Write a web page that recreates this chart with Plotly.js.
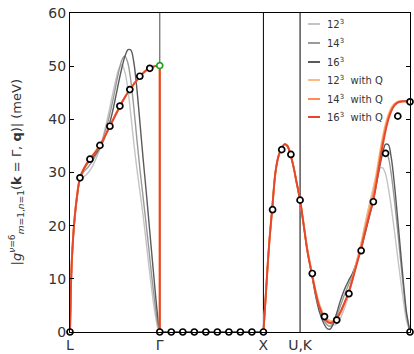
<!DOCTYPE html>
<html>
<head>
<meta charset="utf-8">
<script src="https://cdn.plot.ly/plotly-3.0.1.min.js"></script>
<style>
  html, body { margin: 0; padding: 0; background: #ffffff; }
  #chart { width: 414px; height: 354px; }
</style>
</head>
<body>
<div id="chart"></div>
<script>
// High-symmetry points along the FCC path L-Γ-X-U|K-Γ (path length, 2π/a)
const kL = 0.0, kG1 = 0.866, kX = 1.866, kU = 2.2196, kG2 = 3.2802;
const kTickVals = [kL, kG1, kX, kU, kG2];
const kTickText = ['L', 'Γ', 'X', 'U,K', 'Γ'];

// Wannier-interpolated |g| along L-Γ
const xLG = [0, 0.0097, 0.0193, 0.0386, 0.0676, 0.0965, 0.1351, 0.1737, 0.2123, 0.2509,
             0.2895, 0.3281, 0.3667, 0.4053, 0.4439, 0.4729, 0.5018, 0.5308, 0.5597, 0.5887,
             0.6176, 0.6466, 0.6755, 0.7045, 0.7334, 0.7624, 0.7913, 0.8203, 0.8492, 0.866];
const g12_LG = [0, 8, 13, 19.5, 25, 28.5, 29.2, 29.9, 31, 32.6,
                34.5, 37.4, 40.6, 44.2, 47.6, 49.6, 50.3, 48.8, 45.5, 40.5,
                35.2, 30.5, 26.3, 22, 17.2, 12.2, 7.5, 3.5, 0.6, 0];
const g14_LG = [0, 8.5, 13.5, 19.8, 25.2, 28.8, 30.2, 31.0, 32.0, 33.3,
                34.8, 37.0, 39.6, 42.8, 46.5, 49.2, 51.2, 51.9, 50.5, 47,
                41.8, 36, 30.5, 25.5, 20.5, 15.3, 10, 5.2, 1.2, 0];
const g16_LG = [0, 9, 14, 20, 25.5, 29, 30.7, 31.8, 32.6, 33.6,
                34.7, 36.2, 38.2, 41, 44.5, 47.3, 49.8, 51.9, 53.1, 53.0,
                50.5, 45.5, 39.2, 32.8, 26.8, 20.5, 14.2, 8, 2.3, 0];
const q12_LG = [0, 9.2, 14.3, 20.3, 25.8, 29.2, 30.9, 32.1, 33.1, 34.1,
                35.2, 36.6, 38.1, 39.6, 41.1, 42.2, 43.2, 44.2, 45.1, 45.9,
                46.7, 47.4, 48.1, 48.7, 49.2, 49.5, 49.8, 50.0, 50.1, 50.1];
const q14_LG = [0, 9.1, 14.1, 20.1, 25.6, 29.1, 30.8, 32.0, 33.0, 34.0,
                35.1, 36.5, 38.0, 39.5, 41.0, 42.1, 43.2, 44.2, 45.1, 45.8,
                46.7, 47.4, 48.1, 48.7, 49.2, 49.5, 49.8, 50.0, 50.1, 50.1];
const q16_LG = [0, 9, 14, 20, 25.5, 29.0, 30.7, 32.0, 33.0, 34.0,
                35.1, 36.5, 38.0, 39.5, 41.0, 42.1, 43.2, 44.2, 45.1, 45.8,
                46.7, 47.4, 48.1, 48.7, 49.2, 49.5, 49.8, 50.0, 50.1, 50.1];

// Γ-X: the coupling vanishes by symmetry
const xGX = [kG1, kX];
const zGX = [0, 0];

// X-U|K-Γ
const xXG = [1.866, 1.8853, 1.9046, 1.9239, 1.9499, 1.9818, 2.0107, 2.0397, 2.0686,
             2.0976, 2.1265, 2.1554, 2.1844, 2.2196, 2.2519, 2.2905, 2.3320, 2.3677,
             2.4063, 2.4516, 2.4835, 2.5124, 2.5414, 2.5703, 2.6089, 2.6475, 2.6861,
             2.7247, 2.7633, 2.8047, 2.8404, 2.8790, 2.9244, 2.9562, 2.9852, 3.0141,
             3.0431, 3.0720, 3.1009, 3.1299, 3.1588, 3.1878, 3.2167, 3.2457, 3.2802];
const g12_XG = [0, 5.8, 11.8, 17.2, 23.0, 30.0, 33.0, 34.5, 35.3, 35.0, 33.4, 31.2, 28.3, 24.8,
                20.6, 15.5, 11.3, 7.9, 5.2, 3.1, 2.0, 1.5, 1.3, 1.5, 2.6, 4.4, 6.8, 9.6, 12.8,
                16.3, 19.8, 23.3, 27.0, 29.4, 30.7, 30.9, 29.8, 27.0, 23.3, 19.0, 14.5, 10.0,
                5.8, 2.2, 0];
const g14_XG = [0, 5.8, 11.8, 17.2, 23.0, 30.0, 33.0, 34.5, 35.3, 35.0, 33.4, 31.2, 28.3, 24.8,
                20.5, 15.3, 11.1, 7.5, 4.5, 2.2, 1.3, 1.1, 1.6, 2.8, 4.9, 7.0, 8.8, 10.6, 12.8,
                15.6, 18.6, 21.8, 25.5, 28.6, 31.3, 33.2, 33.9, 32.8, 29.5, 24.8, 19.5, 13.8,
                8.3, 3.3, 0];
const g16_XG = [0, 5.8, 11.8, 17.2, 23.0, 30.0, 33.0, 34.5, 35.3, 35.0, 33.4, 31.2, 28.3, 24.8,
                20.4, 15.1, 11.0, 7.0, 3.8, 1.5, 0.6, 0.6, 1.6, 3.4, 5.9, 8.0, 9.6, 11.0, 13.0,
                15.3, 18.0, 21.0, 24.6, 27.8, 30.8, 33.5, 35.3, 35.2, 32.6, 27.8, 21.8, 15.5,
                9.3, 3.8, 0];
const q12_XG = [0, 5.8, 11.8, 17.2, 23.0, 30.0, 33.0, 34.5, 35.3, 35.0, 33.4, 31.2, 28.3, 24.8,
                20.6, 15.5, 11.3, 8.0, 5.1, 3.1, 2.4, 2.1, 2.1, 2.4, 3.5, 5.2, 7.3, 10.1, 13.1,
                16.2, 19.4, 22.8, 26.6, 29.8, 33.2, 36.4, 39.0, 40.9, 42.2, 42.9, 43.3, 43.4,
                43.4, 43.4, 43.4];
const q14_XG = [0, 5.8, 11.8, 17.2, 23.0, 30.0, 33.0, 34.5, 35.3, 35.0, 33.4, 31.2, 28.3, 24.8,
                20.5, 15.3, 11.1, 7.7, 4.8, 2.8, 2.1, 1.8, 1.9, 2.4, 3.7, 5.4, 7.3, 9.9, 12.8,
                15.8, 18.9, 22.1, 25.7, 29.0, 32.4, 35.7, 38.4, 40.5, 41.9, 42.8, 43.2, 43.4,
                43.4, 43.4, 43.4];
const q16_XG = [0, 5.8, 11.8, 17.2, 23.0, 30.0, 33.0, 34.5, 35.3, 35.0, 33.4, 31.2, 28.3, 24.8,
                20.5, 15.2, 11.0, 7.6, 4.7, 2.7, 1.9, 1.7, 1.9, 2.4, 3.8, 5.5, 7.3, 9.8, 12.5,
                15.4, 18.3, 21.3, 24.6, 28.0, 31.5, 34.8, 37.7, 40.0, 41.6, 42.6, 43.1, 43.3,
                43.4, 43.4, 43.4];

// Direct DFPT values at the explicit q points
const dfptX = [0, 0.0962, 0.1924, 0.2887, 0.3849, 0.4811, 0.5773, 0.6736, 0.7698,
               0.866, 0.9771, 1.0882, 1.1993, 1.3104, 1.4216, 1.5327, 1.6438, 1.7549, 1.866,
               1.9544, 2.0428, 2.1312, 2.2196,
               2.3375, 2.4553, 2.5732, 2.6910, 2.8089, 2.9268, 3.0446, 3.1625, 3.2802, 3.2802];
const dfptY = [0, 29.0, 32.5, 35.1, 38.7, 42.5, 45.6, 48.1, 49.6,
               0, 0, 0, 0, 0, 0, 0, 0, 0, 0,
               23.0, 34.3, 33.4, 24.8,
               11.0, 2.9, 2.25, 7.2, 15.3, 24.5, 33.6, 40.6, 43.3, 0];
// Γ-point value approached from the L side
const gammaX = [kG1];
const gammaY = [50.1];

// Series names and colours
const seriesNames = ['12<sup>3</sup>', '14<sup>3</sup>', '16<sup>3</sup>',
                     '12<sup>3</sup>  with Q', '14<sup>3</sup>  with Q', '16<sup>3</sup>  with Q'];
const seriesColors = ['#c4c4c4', '#9a9a9a', '#5a5a5a', '#fdbb84', '#fc8d59', '#e5472c'];

// Join path segments, breaking the line between them
function joinSegments(segs) {
  const x = [], y = [];
  segs.forEach((s, i) => {
    if (i > 0) { x.push(null); y.push(null); }
    x.push(...s[0]); y.push(...s[1]);
  });
  return {x, y};
}

const lgSets = [g12_LG, g14_LG, g16_LG, q12_LG, q14_LG, q16_LG];
const xgSets = [g12_XG, g14_XG, g16_XG, q12_XG, q14_XG, q16_XG];

const traces = [];
for (let i = 0; i < 6; i++) {
  const lg = lgSets[i];
  const last = lg[lg.length - 1];
  const segs = [[xLG, lg]];
  if (last > 0) segs.push([[kG1, kG1], [last, 0]]);  // drop at Γ
  segs.push([xGX, zGX]);
  segs.push([xXG, xgSets[i]]);
  const d = joinSegments(segs);
  traces.push({
    type: 'scatter', mode: 'lines', x: d.x, y: d.y, name: seriesNames[i],
    line: {color: seriesColors[i], width: i < 3 ? 1.4 : 1.9, shape: 'spline', smoothing: 0.8},
    connectgaps: false, showlegend: false, hoverinfo: 'skip'
  });
}

traces.push({
  type: 'scatter', mode: 'markers', x: dfptX, y: dfptY, cliponaxis: false,
  marker: {symbol: 'circle', size: 6, color: '#ffffff', line: {color: '#000000', width: 1.7}},
  showlegend: false, hoverinfo: 'skip'
});
traces.push({
  type: 'scatter', mode: 'markers', x: gammaX, y: gammaY, cliponaxis: false,
  marker: {symbol: 'circle', size: 6, color: '#ffffff', line: {color: '#1aa31a', width: 1.7}},
  showlegend: false, hoverinfo: 'skip'
});

// Plot-area geometry used to place the hand-drawn key
const M = {l: 70, r: 4, t: 13, b: 22};
const W = 414, H = 354;
const pw = W - M.l - M.r, ph = H - M.t - M.b;
const px2x = p => (p - M.l) / pw;
const px2y = p => (H - M.b - p) / ph;

const shapes = [
  {type: 'line', xref: 'x', yref: 'paper', x0: kG1, x1: kG1, y0: 0, y1: 1,
   line: {color: '#666666', width: 1.2}, layer: 'below'},
  {type: 'line', xref: 'x', yref: 'paper', x0: kX, x1: kX, y0: 0, y1: 1,
   line: {color: '#000000', width: 1}, layer: 'below'},
  {type: 'line', xref: 'x', yref: 'paper', x0: kU, x1: kU, y0: 0, y1: 1,
   line: {color: '#000000', width: 1}, layer: 'below'}
];
const annotations = [];
const keyRows = [24, 43, 62, 80, 99, 117];
for (let i = 0; i < 6; i++) {
  const yy = px2y(keyRows[i]);
  shapes.push({type: 'line', xref: 'paper', yref: 'paper',
               x0: px2x(308), x1: px2x(320), y0: yy, y1: yy,
               line: {color: seriesColors[i], width: 2}});
  annotations.push({xref: 'paper', yref: 'paper', x: px2x(325), y: yy,
                    xanchor: 'left', yanchor: 'middle', showarrow: false,
                    text: seriesNames[i], font: {size: 10, color: '#333333'}});
}
annotations.push({
  xref: 'paper', yref: 'paper', x: px2x(16), y: 0.5, xanchor: 'center', yanchor: 'middle',
  textangle: -90, showarrow: false,
  text: '|<i>g</i><sup><i>ν</i>=6</sup><sub><i>m</i>=1,<i>n</i>=1</sub>(<b>k</b> = Γ, <b>q</b>)| (meV)',
  font: {size: 13, color: '#333333'}
});

const layout = {
  width: W, height: H, margin: M,
  paper_bgcolor: '#ffffff', plot_bgcolor: '#ffffff',
  font: {family: 'DejaVu Sans, sans-serif', color: '#333333'},
  xaxis: {
    range: [kL, kG2], tickvals: kTickVals, ticktext: kTickText, ticks: '',
    showgrid: false, zeroline: false, showline: true, mirror: true,
    linecolor: '#000000', linewidth: 1, tickfont: {size: 14, color: '#333333'}
  },
  yaxis: {
    range: [0, 60], dtick: 10, ticks: 'inside', ticklen: 4, tickcolor: '#000000',
    showgrid: false, zeroline: false, showline: true, mirror: 'ticks',
    linecolor: '#000000', linewidth: 1, tickfont: {size: 14, color: '#333333'}
  },
  shapes: shapes, annotations: annotations, showlegend: false
};

Plotly.newPlot('chart', traces, layout, {displayModeBar: false, staticPlot: true});
</script>
</body>
</html>
